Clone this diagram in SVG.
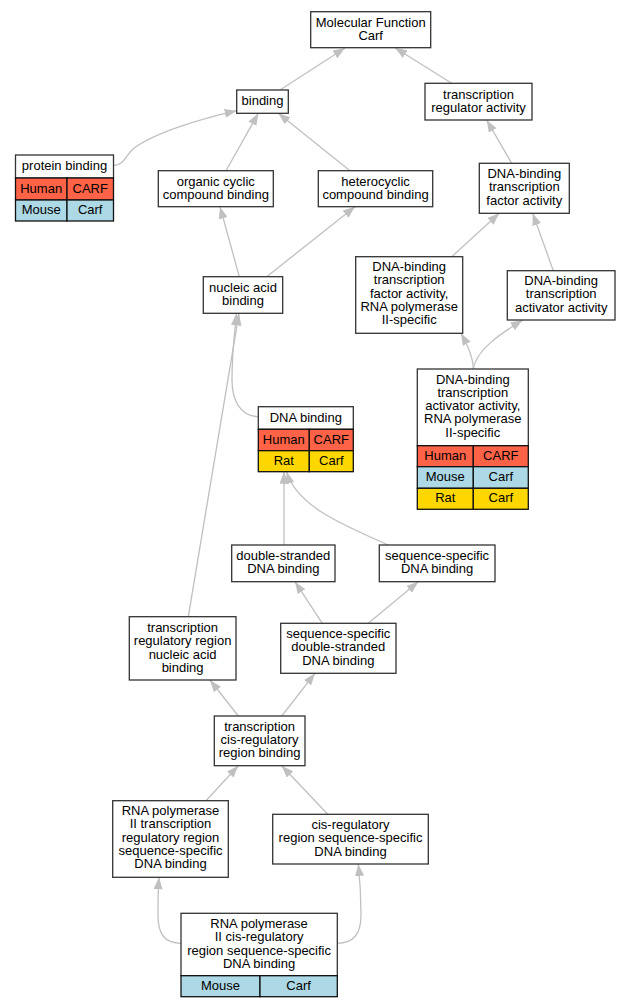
<svg xmlns="http://www.w3.org/2000/svg" width="631" height="1008" viewBox="0 0 631 1008">
<defs>
<marker id="arr" viewBox="0 0 12 9" refX="12" refY="4.5" markerUnits="userSpaceOnUse" markerWidth="12" markerHeight="9" orient="auto">
<path d="M0,0 L12,4.5 L0,9 z" fill="#c0c0c0"/>
</marker>
<style>
.box{fill:#ffffff;stroke:#333333;stroke-width:1.3}
.cell{stroke:#111111;stroke-width:1.3}
.hu{fill:#ff6347}
.mo{fill:#add8e6}
.ra{fill:#ffd700}
text{font-family:"Liberation Sans",Arial,sans-serif;font-size:13px;fill:#000;text-anchor:middle}
.e{fill:none;stroke:#c0c0c0;stroke-width:1.3;marker-end:url(#arr)}
</style>
</defs>
<rect width="631" height="1008" fill="#ffffff"/>
<g id="connectors">
<path class="e" d="M280,90 L345,48"/>
<path class="e" d="M451.7,83.3 L395,47.7"/>
<path class="e" d="M114,165.5 C124,165 126,155 133,149 C155,132 205,118 236.7,110.7"/>
<path class="e" d="M226,170.7 L258.3,113.3"/>
<path class="e" d="M350,170.7 L278.3,113.3"/>
<path class="e" d="M511.7,163.3 L486.7,120"/>
<path class="e" d="M239.3,276.7 L220,206.7"/>
<path class="e" d="M266.7,276.7 L355,206.7"/>
<path class="e" d="M451.7,256.7 L499.3,213.3"/>
<path class="e" d="M553.3,270.7 L532.7,213.3"/>
<path class="e" d="M473.3,369 C473.3,358 468,346 461,333.3"/>
<path class="e" d="M473.3,369 C476,350 500,334 522.7,320"/>
<path class="e" d="M258.3,416.7 C240,416 232,400 232,380 C232,350 235,330 236.5,313.3"/>
<path class="e" d="M188.3,616.7 L239,313.3"/>
<path class="e" d="M284,545 L284,471.7"/>
<path class="e" d="M388.3,545 C340,524 296,505 286.7,471.7"/>
<path class="e" d="M322.3,623.3 L295,581.7"/>
<path class="e" d="M368.3,623.3 L418.3,581.7"/>
<path class="e" d="M238.3,716 L210,680"/>
<path class="e" d="M281.7,716 L315,673.3"/>
<path class="e" d="M206,800.7 L238.3,765.7"/>
<path class="e" d="M327.7,814.3 L281.7,765.7"/>
<path class="e" d="M181,943.3 C165,943 158,935 158,915 C158,900 158,890 159,877.3"/>
<path class="e" d="M337.3,943.3 C353,943 361,935 361,915 C361,895 360,880 358.3,864"/>
</g>
<g id="n_mf">
<rect class="box" x="310.7" y="11.7" width="120" height="36"/>
<text x="370.7" y="26.5">Molecular Function</text>
<text x="370.7" y="39.8">Carf</text>
</g>
<g id="n_binding">
<rect class="box" x="236.7" y="90" width="51.6" height="23.3"/>
<text x="262.5" y="105.2">binding</text>
</g>
<g id="n_trreg">
<rect class="box" x="425" y="83.3" width="107" height="36.7"/>
<text x="478.5" y="98.5">transcription</text>
<text x="478.5" y="111.8">regulator activity</text>
</g>
<g id="n_protein">
<rect class="box" x="15.5" y="155" width="98" height="23"/>
<rect class="cell hu" x="15.5" y="178" width="51.5" height="22"/>
<rect class="cell hu" x="67" y="178" width="46.5" height="22"/>
<rect class="cell mo" x="15.5" y="200" width="51.5" height="21"/>
<rect class="cell mo" x="67" y="200" width="46.5" height="21"/>
<text x="64.5" y="170">protein binding</text>
<text x="41.2" y="192.5">Human</text>
<text x="90.2" y="192.5">CARF</text>
<text x="41.2" y="214">Mouse</text>
<text x="90.2" y="214">Carf</text>
</g>
<g id="n_organic">
<rect class="box" x="158.3" y="170.7" width="115" height="36"/>
<text x="215.8" y="185.5">organic cyclic</text>
<text x="215.8" y="198.8">compound binding</text>
</g>
<g id="n_hetero">
<rect class="box" x="318.3" y="170.7" width="114.4" height="36"/>
<text x="375.5" y="185.5">heterocyclic</text>
<text x="375.5" y="198.8">compound binding</text>
</g>
<g id="n_dnatf">
<rect class="box" x="479.3" y="163.3" width="90" height="50"/>
<text x="524.3" y="178">DNA-binding</text>
<text x="524.3" y="191.3">transcription</text>
<text x="524.3" y="204.6">factor activity</text>
</g>
<g id="n_nucleic">
<rect class="box" x="203.3" y="276.7" width="79.4" height="36.6"/>
<text x="243" y="291.8">nucleic acid</text>
<text x="243" y="305.1">binding</text>
</g>
<g id="n_dnatf2">
<rect class="box" x="355.7" y="256.7" width="107" height="76.6"/>
<text x="409.2" y="271">DNA-binding</text>
<text x="409.2" y="284.3">transcription</text>
<text x="409.2" y="297.6">factor activity,</text>
<text x="409.2" y="310.9">RNA polymerase</text>
<text x="409.2" y="324.2">II-specific</text>
</g>
<g id="n_dnataa">
<rect class="box" x="507.3" y="270.7" width="107.7" height="49.3"/>
<text x="561.2" y="285">DNA-binding</text>
<text x="561.2" y="298.3">transcription</text>
<text x="561.2" y="311.6">activator activity</text>
</g>
<g id="n_dnabind">
<rect class="box" x="258.3" y="406.7" width="95" height="22.6"/>
<rect class="cell hu" x="258.3" y="429.3" width="51" height="21.4"/>
<rect class="cell hu" x="309.3" y="429.3" width="44" height="21.4"/>
<rect class="cell ra" x="258.3" y="450.7" width="51" height="21"/>
<rect class="cell ra" x="309.3" y="450.7" width="44" height="21"/>
<text x="305.8" y="421.5">DNA binding</text>
<text x="283.8" y="443.5">Human</text>
<text x="331.3" y="443.5">CARF</text>
<text x="283.8" y="464.7">Rat</text>
<text x="331.3" y="464.7">Carf</text>
</g>
<g id="n_dnataa2">
<rect class="box" x="417.3" y="369" width="111" height="76.7"/>
<rect class="cell hu" x="417.3" y="445.7" width="56" height="21"/>
<rect class="cell hu" x="473.3" y="445.7" width="55" height="21"/>
<rect class="cell mo" x="417.3" y="466.7" width="56" height="21.6"/>
<rect class="cell mo" x="473.3" y="466.7" width="55" height="21.6"/>
<rect class="cell ra" x="417.3" y="488.3" width="56" height="21"/>
<rect class="cell ra" x="473.3" y="488.3" width="55" height="21"/>
<text x="472.8" y="383.5">DNA-binding</text>
<text x="472.8" y="396.8">transcription</text>
<text x="472.8" y="410.1">activator activity,</text>
<text x="472.8" y="423.4">RNA polymerase</text>
<text x="472.8" y="436.7">II-specific</text>
<text x="445.3" y="459.7">Human</text>
<text x="500.8" y="459.7">CARF</text>
<text x="445.3" y="481">Mouse</text>
<text x="500.8" y="481">Carf</text>
<text x="445.3" y="502.3">Rat</text>
<text x="500.8" y="502.3">Carf</text>
</g>
<g id="n_ds">
<rect class="box" x="231.7" y="545" width="103.3" height="36.7"/>
<text x="283.3" y="560">double-stranded</text>
<text x="283.3" y="573.3">DNA binding</text>
</g>
<g id="n_ss">
<rect class="box" x="379.3" y="545" width="115.7" height="36.7"/>
<text x="437.1" y="560">sequence-specific</text>
<text x="437.1" y="573.3">DNA binding</text>
</g>
<g id="n_trregnuc">
<rect class="box" x="129.3" y="616.7" width="106.7" height="63.3"/>
<text x="182.6" y="631.9">transcription</text>
<text x="182.6" y="645.2">regulatory region</text>
<text x="182.6" y="658.5">nucleic acid</text>
<text x="182.6" y="671.8">binding</text>
</g>
<g id="n_ssds">
<rect class="box" x="280.7" y="623.3" width="115.3" height="50"/>
<text x="338.3" y="638">sequence-specific</text>
<text x="338.3" y="651.3">double-stranded</text>
<text x="338.3" y="664.6">DNA binding</text>
</g>
<g id="n_trcis">
<rect class="box" x="214.3" y="716" width="90.7" height="49.7"/>
<text x="259.6" y="730.6">transcription</text>
<text x="259.6" y="743.9">cis-regulatory</text>
<text x="259.6" y="757.2">region binding</text>
</g>
<g id="n_rnapol2trreg">
<rect class="box" x="112.7" y="800.7" width="115.6" height="76.6"/>
<text x="170.5" y="815">RNA polymerase</text>
<text x="170.5" y="828.3">II transcription</text>
<text x="170.5" y="841.6">regulatory region</text>
<text x="170.5" y="854.9">sequence-specific</text>
<text x="170.5" y="868.2">DNA binding</text>
</g>
<g id="n_cisreg">
<rect class="box" x="272.7" y="814.3" width="155.6" height="49.7"/>
<text x="350.5" y="828.9">cis-regulatory</text>
<text x="350.5" y="842.2">region sequence-specific</text>
<text x="350.5" y="855.5">DNA binding</text>
</g>
<g id="n_bottom">
<rect class="box" x="181" y="913.3" width="156.3" height="62.4"/>
<rect class="cell mo" x="181" y="975.7" width="79" height="21"/>
<rect class="cell mo" x="260" y="975.7" width="77.3" height="21"/>
<text x="259.1" y="928">RNA polymerase</text>
<text x="259.1" y="941.3">II cis-regulatory</text>
<text x="259.1" y="954.6">region sequence-specific</text>
<text x="259.1" y="967.9">DNA binding</text>
<text x="220.5" y="989.7">Mouse</text>
<text x="298.6" y="989.7">Carf</text>
</g>
</svg>
